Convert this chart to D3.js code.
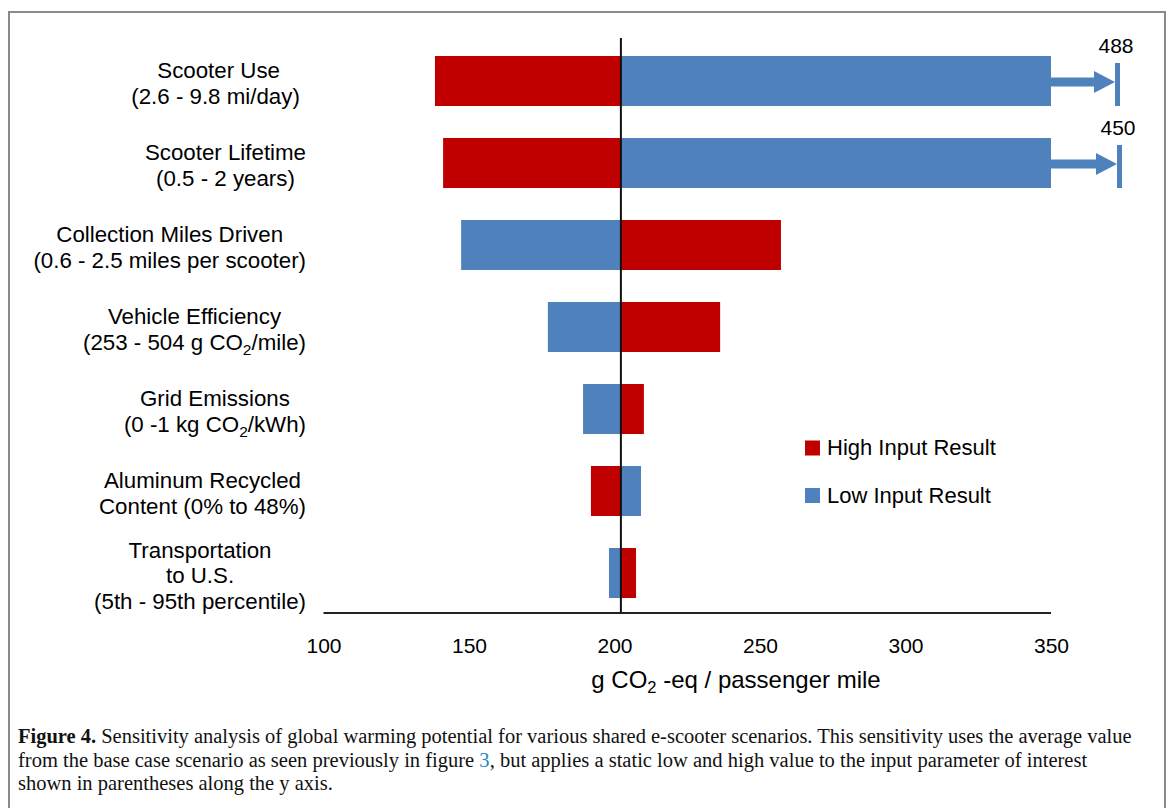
<!DOCTYPE html>
<html>
<head>
<meta charset="utf-8">
<script src="https://cdn.jsdelivr.net/npm/d3@7"></script>
<style>
  html, body { margin: 0; padding: 0; background: #fff; }
  svg { display: block; }
</style>
</head>
<body>
<svg id="chart" width="1168" height="808"></svg>
<script>
// ---------------- data ----------------
const categories = [
  ["Scooter Use", "(2.6 - 9.8 mi/day)\u00a0"],
  ["Scooter Lifetime", "(0.5 - 2 years)"],
  ["Collection Miles Driven", "(0.6 - 2.5 miles per scooter)"],
  ["Vehicle Efficiency", "(253 - 504 g CO_2/mile)"],
  ["Grid Emissions", "(0 -1 kg CO_2/kWh)"],
  ["Aluminum Recycled", "Content (0% to 48%)"],
  ["Transportation", "to U.S.", "(5th - 95th percentile)"]
];
const highInputValues = [138.3, 141.1, 257.2, 236.3, 210.1, 191.9, 207.4];
const lowInputValues  = [488,   450,   147.3, 177.1, 189.2, 209.1, 198.1];
const baseValue = 202.2;
const xTicks = [100, 150, 200, 250, 300, 350];
const seriesNames = ["High Input Result", "Low Input Result"];
const seriesColors = ["#C00000", "#4F81BD"];
const xTitle = "g CO_2 -eq / passenger mile";
const captionLines = [
  [{t: "Figure 4.", b: true}, {t: " Sensitivity analysis of global warming potential for various shared e-scooter scenarios. This sensitivity uses the average value"}],
  [{t: "from the base case scenario as seen previously in figure "}, {t: "3", c: "#2b86c5"}, {t: ", but applies a static low and high value to the input parameter of interest"}],
  [{t: "shown in parentheses along the y axis."}]
];

// ---------------- layout ----------------
const svg = d3.select("#chart");
const FONT = "'Liberation Sans', Arial, sans-serif";
svg.append("rect").attr("width", 1168).attr("height", 808).attr("fill", "#fff");
svg.append("rect").attr("x", 9).attr("y", 12).attr("width", 1156).attr("height", 830)
  .attr("fill", "none").attr("stroke", "#8a8a8a").attr("stroke-width", 2);

const x = d3.scaleLinear().domain([100, 350]).range([323.5, 1051]);
const y = d3.scaleBand().domain(d3.range(categories.length)).range([40, 614])
  .paddingInner(0.39).paddingOuter(0.195);
const xMax = x.domain()[1];

function addRich(sel, str, subSize) {
  const parts = str.split("_2");
  parts.forEach((p, i) => {
    if (i > 0) {
      sel.append("tspan").attr("font-size", subSize).attr("dy", 5).text("2");
      sel.append("tspan").attr("dy", -5).text(p);
    } else {
      sel.append("tspan").text(p);
    }
  });
}

// bars
const g = svg.append("g");
categories.forEach((c, i) => {
  [[highInputValues[i], 0], [lowInputValues[i], 1]].forEach(([v, s]) => {
    const lo = Math.min(v, baseValue), hi = Math.min(Math.max(v, baseValue), xMax);
    g.append("rect")
      .attr("x", x(lo)).attr("y", y(i))
      .attr("width", x(hi) - x(lo)).attr("height", y.bandwidth())
      .attr("fill", seriesColors[s]);
    if (v > xMax) {
      // break arrow annotation
      const cy = y(i) + y.bandwidth() / 2 + 1;
      const endX = x(xMax) + (i === 0 ? 64 : 66);
      const headStart = endX - 21;
      g.append("rect").attr("x", x(xMax)).attr("y", cy - 4.5)
        .attr("width", headStart - x(xMax) + 1).attr("height", 9).attr("fill", seriesColors[s]);
      g.append("path")
        .attr("d", `M${headStart},${cy - 11}L${endX},${cy}L${headStart},${cy + 11}Z`)
        .attr("fill", seriesColors[s]);
      g.append("rect").attr("x", endX).attr("y", cy - 19)
        .attr("width", 5).attr("height", 43).attr("fill", seriesColors[s]);
      g.append("text").attr("x", endX + 1).attr("y", cy - 29)
        .attr("text-anchor", "middle").attr("font-family", FONT).attr("font-size", 21)
        .attr("fill", "#000").text(v);
    }
  });
});

// base line and axis line
svg.append("line").attr("x1", x(baseValue)).attr("x2", x(baseValue))
  .attr("y1", y.range()[0] - 2).attr("y2", 613)
  .attr("stroke", "#111").attr("stroke-width", 2);
svg.append("line").attr("x1", x(100)).attr("x2", x(350))
  .attr("y1", 613).attr("y2", 613)
  .attr("stroke", "#222").attr("stroke-width", 2);

// x tick labels via axis
const axis = d3.axisBottom(x).tickValues(xTicks).tickSize(0).tickPadding(0).tickFormat(d3.format("d"));
const ag = svg.append("g").attr("transform", "translate(0,613)").call(axis);
ag.select(".domain").remove();
ag.selectAll("text").attr("font-family", FONT).attr("font-size", 21).attr("fill", "#000")
  .attr("dy", null).attr("y", 39.5);

// x title
const tt = svg.append("text").attr("x", 736).attr("y", 688).attr("text-anchor", "middle")
  .attr("font-family", FONT).attr("font-size", 24).attr("fill", "#000");
addRich(tt, xTitle, 16.5);

// category labels
const RIGHT = 306, LH = 25.5;
categories.forEach((lines, i) => {
  const cy = y(i) + y.bandwidth() / 2 + 2.5;
  const texts = lines.map((ln, k) => {
    const t = svg.append("text")
      .attr("y", cy - (lines.length - 1) / 2 * LH + k * LH + 7.5)
      .attr("text-anchor", "middle")
      .attr("font-family", FONT).attr("font-size", 22.3).attr("fill", "#000");
    addRich(t, ln, 15.5);
    return t;
  });
  const maxW = d3.max(texts, t => t.node().getComputedTextLength());
  texts.forEach(t => t.attr("x", RIGHT - maxW / 2));
});

// legend
seriesNames.forEach((n, i) => {
  const ly = 440.5 + i * 47.5;
  svg.append("rect").attr("x", 805).attr("y", ly).attr("width", 15).attr("height", 15)
    .attr("fill", seriesColors[i]);
  svg.append("text").attr("x", 827).attr("y", ly + 14.5)
    .attr("font-family", FONT).attr("font-size", 22).attr("fill", "#000").text(n);
});

// caption: first two lines fill their measured widths; the last line uses the same condensing
const capX = 18, capY = [743, 766.5, 790], capW = [1114, 1070, null];
const capTexts = captionLines.map((segs, i) => {
  const t = svg.append("text").attr("font-family", "'Liberation Serif', 'Times New Roman', serif")
    .attr("font-size", 20).attr("fill", "#111");
  segs.forEach(s => {
    const ts = t.append("tspan").text(s.t);
    if (s.b) ts.attr("font-weight", "bold");
    if (s.c) ts.attr("fill", s.c);
  });
  return t;
});
const scales = capTexts.map((t, i) => capW[i] ? capW[i] / t.node().getComputedTextLength() : null);
const avgScale = d3.mean(scales.filter(s => s));
capTexts.forEach((t, i) => {
  t.attr("transform", `translate(${capX},${capY[i]}) scale(${scales[i] || avgScale},1)`);
});
</script>
</body>
</html>
